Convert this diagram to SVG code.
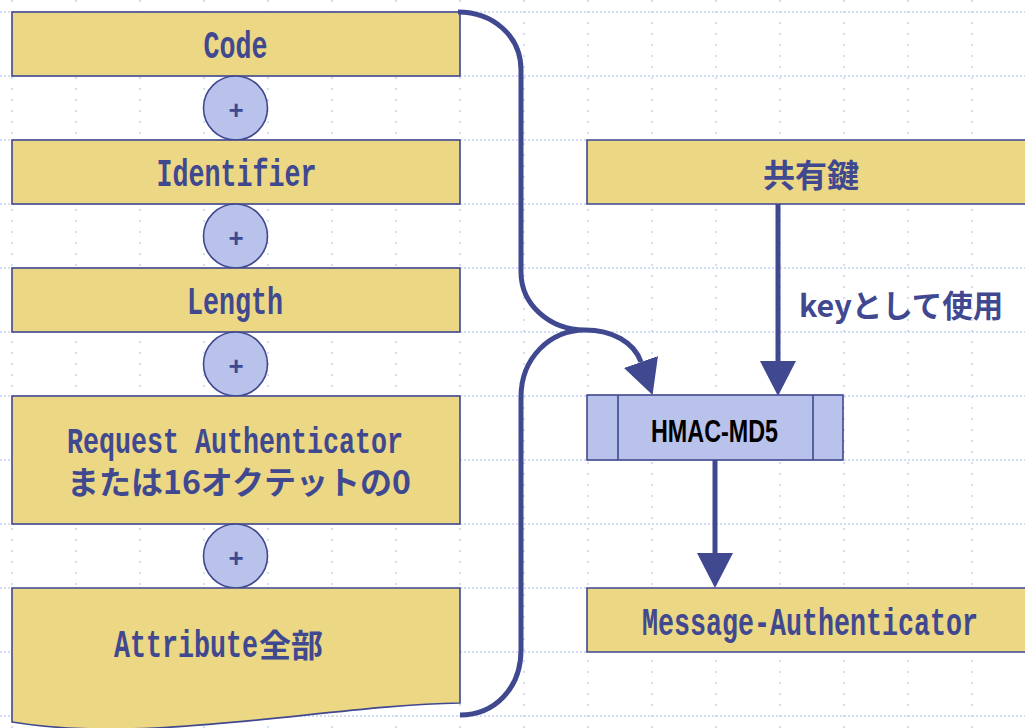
<svg xmlns="http://www.w3.org/2000/svg" width="1025" height="728" viewBox="0 0 1025 728">
  <style>
    .grid-h { stroke: #c6d2f3; stroke-width: 1.5; stroke-dasharray: 2 2; fill: none; }
    .grid-v { stroke: #c6d2f3; stroke-width: 1.5; stroke-dasharray: 2 9; fill: none; }
    .field { fill: #ebd784; stroke: #404890; stroke-width: 1.6; }
    .fill-only { fill: #ebd784; stroke: none; }
    .edge { fill: none; stroke: #404890; stroke-width: 1.6; }
    .plus-node { fill: #b8c2ea; stroke: #404890; stroke-width: 1.6; }
    .proc { fill: #b8c2ea; stroke: #404890; stroke-width: 1.6; }
    /* narrow monospace labels: Liberation Mono squeezed to 16px per cell */
    .mono { font-family: "Liberation Mono", monospace; font-size: 38px; font-weight: bold; fill: #404890; }
    .mono.small { font-size: 36px; }
    .mid { text-anchor: middle; }
    .jp { font-family: "Noto Sans CJK JP", "Liberation Sans", sans-serif; font-weight: bold; fill: #404890; }
    .plus { font-family: "Liberation Sans", sans-serif; font-size: 26px; font-weight: bold; fill: #404890; text-anchor: middle; }
    .flow { fill: none; stroke: #404890; stroke-width: 5; }
  </style>
  <defs>
    <marker id="head" viewBox="0 0 35 36" refX="0" refY="18" markerWidth="35" markerHeight="36" markerUnits="userSpaceOnUse" orient="auto">
      <path d="M0,0 L35,18 L0,36 Z" fill="#404890"/>
    </marker>
  </defs>

  <rect width="1025" height="728" fill="#ffffff"/>

  <!-- background grid -->
  <g id="grid">
    <path class="grid-h" d="M0,12H1025M0,76H1025M0,140H1025M0,204H1025M0,268H1025M0,332H1025M0,396H1025M0,460H1025M0,524H1025M0,588H1025M0,652H1025M0,716H1025"/>
    <path class="grid-v" d="M12,0V728M76,0V728M140,0V728M204,0V728M268,0V728M332,0V728M396,0V728M460,0V728M524,0V728M588,0V728M652,0V728M716,0V728M780,0V728M844,0V728M908,0V728M972,0V728"/>
  </g>

  <!-- packet fields -->
  <g id="code">
    <rect class="field" x="12" y="12" width="448" height="64"/>
    <text class="mono mid" transform="translate(235.5,58) scale(0.702,1)">Code</text>
  </g>
  <g id="plus1">
    <circle class="plus-node" cx="235.5" cy="108" r="32"/>
    <text class="plus" x="236" y="119">+</text>
  </g>
  <g id="identifier">
    <rect class="field" x="12" y="140" width="448" height="64"/>
    <text class="mono mid" transform="translate(236.5,186) scale(0.702,1)">Identifier</text>
  </g>
  <g id="plus2">
    <circle class="plus-node" cx="235.5" cy="236" r="32"/>
    <text class="plus" x="236" y="247">+</text>
  </g>
  <g id="length">
    <rect class="field" x="12" y="268" width="448" height="64"/>
    <text class="mono mid" transform="translate(235,314) scale(0.702,1)">Length</text>
  </g>
  <g id="plus3">
    <circle class="plus-node" cx="235.5" cy="364" r="32"/>
    <text class="plus" x="236" y="375">+</text>
  </g>
  <g id="request-authenticator">
    <rect class="field" x="12" y="396" width="448" height="128"/>
    <text class="mono small mid" transform="translate(235,453) scale(0.741,1)">Request Authenticator</text>
    <text class="jp" x="67" y="494" font-size="32">または16オクテットの0</text>
  </g>
  <g id="plus4">
    <circle class="plus-node" cx="235.5" cy="556" r="32"/>
    <text class="plus" x="236" y="567">+</text>
  </g>
  <g id="attributes">
    <path class="field" d="M12,588 H460 V703 C330,705 150,745 12,722 Z"/>
    <text class="mono" transform="translate(114,657) scale(0.702,1)">Attribute</text>
    <text class="jp" x="259" y="657" font-size="32">全部</text>
  </g>

  <!-- right-hand side (boxes run past the right edge) -->
  <g id="shared-secret">
    <rect class="fill-only" x="587" y="140" width="438" height="64"/>
    <path class="edge" d="M1025,140H587V204H1025"/>
    <text class="jp" x="811" y="187" font-size="32" text-anchor="middle">共有鍵</text>
  </g>
  <g id="hmac-md5">
    <rect class="proc" x="587" y="395" width="256" height="65"/>
    <path d="M618,395V460M813,395V460" stroke="#404890" stroke-width="1.6"/>
    <text x="651" y="442" font-family="'Liberation Sans', sans-serif" font-size="31" font-weight="bold" fill="#000000" textLength="127" lengthAdjust="spacingAndGlyphs">HMAC-MD5</text>
  </g>
  <g id="message-authenticator">
    <rect class="fill-only" x="587" y="588" width="438" height="64"/>
    <path class="edge" d="M1025,588H587V652H1025"/>
    <text class="mono mid" transform="translate(810,635) scale(0.702,1)">Message-Authenticator</text>
  </g>

  <!-- connectors -->
  <g id="connectors">
    <!-- brace gathering all fields -->
    <path class="flow" d="M458,12 C493,12 521,36 521,70 V272 C521,305 550,330 585,330 C550,330 521,358 521,397 V650 C521,688 495,715 460,715"/>
    <!-- brace output into HMAC -->
    <path class="flow" d="M585,330 C612,330 634,342 641,362" marker-end="url(#head)"/>
    <!-- key input -->
    <path class="flow" d="M778,204 V361" marker-end="url(#head)"/>
    <text class="jp" x="799" y="317" font-size="30.5">keyとして使用</text>
    <!-- HMAC output -->
    <path class="flow" d="M715,460 V553" marker-end="url(#head)"/>
  </g>
</svg>
